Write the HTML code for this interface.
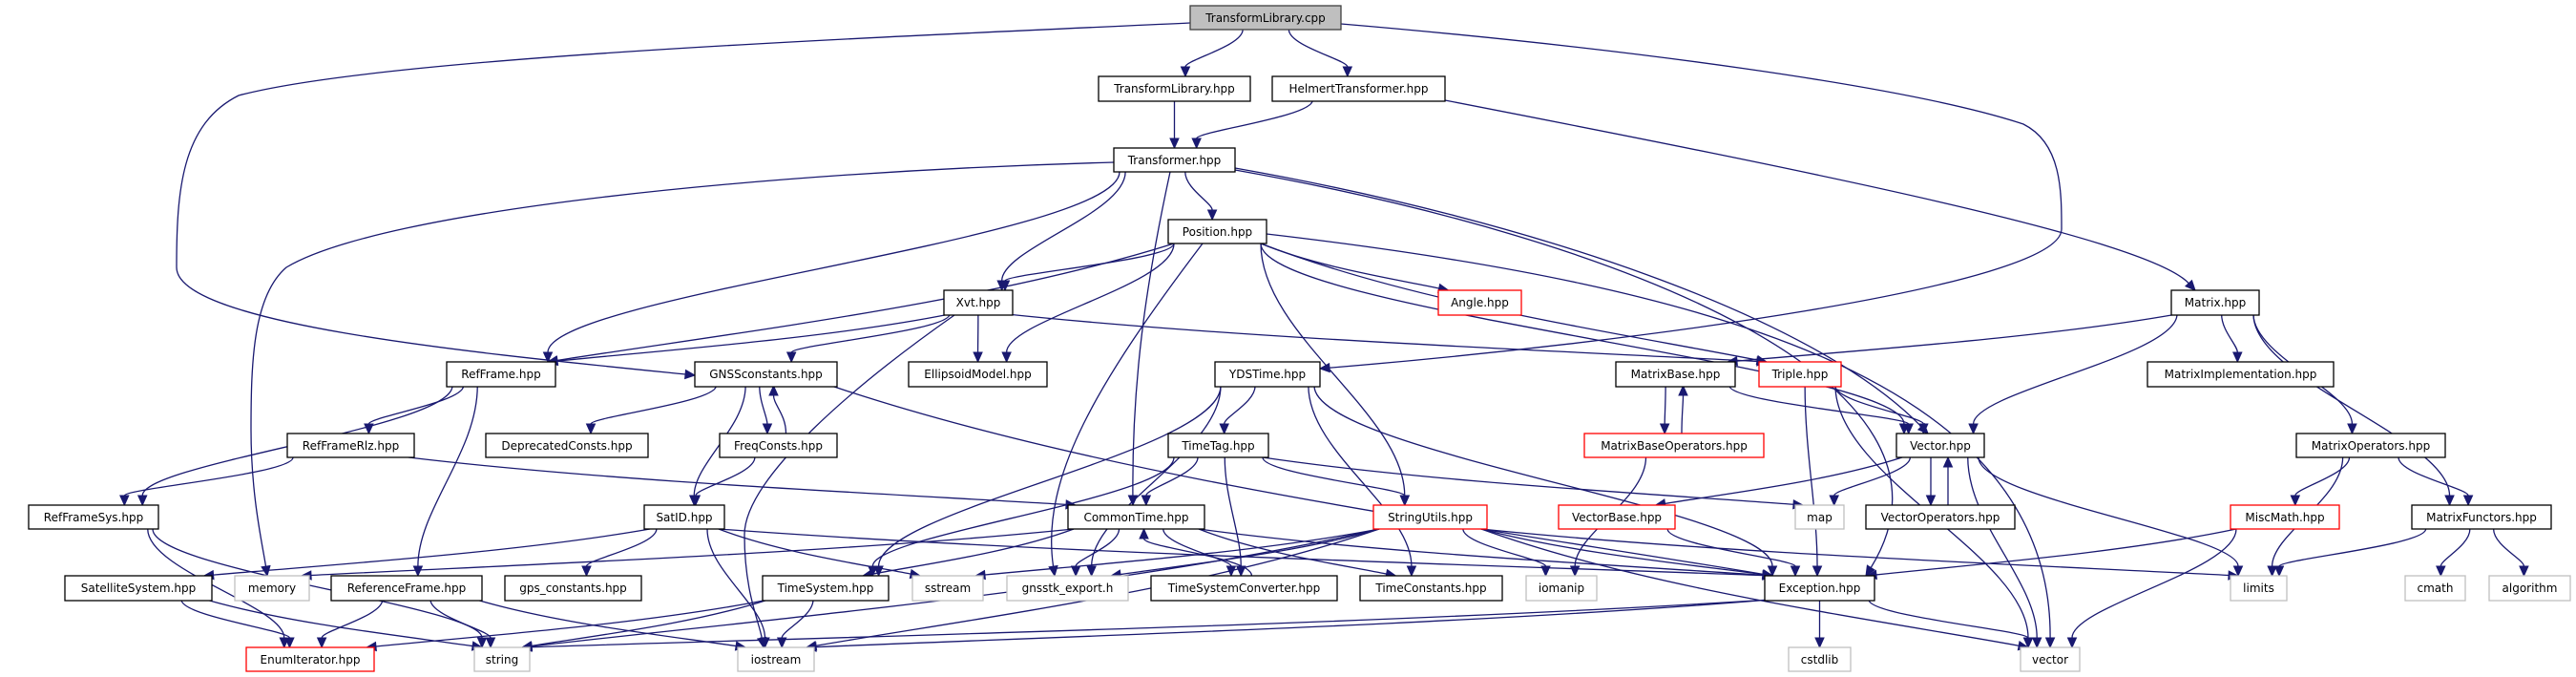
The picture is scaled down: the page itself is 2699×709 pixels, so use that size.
<!DOCTYPE html>
<html><head><meta charset="utf-8">
<style>
html,body{margin:0;padding:0;background:#fff;}
svg{display:block;}
text{font-family:"DejaVu Sans","Liberation Sans",sans-serif;font-size:12px;fill:#000;}
</style></head>
<body>
<svg id="g" width="2699" height="709" viewBox="0 0 2699 709" xmlns="http://www.w3.org/2000/svg">
<rect width="2699" height="709" fill="#fff"/>
<g id="edges" fill="none" stroke="#191970" stroke-width="1.3"></g>
<g id="heads" fill="#191970" stroke="#191970"></g>
<g id="nodes" stroke-width="1.3">
<rect x="1247" y="6" width="158" height="25" fill="#bfbfbf" stroke="#404040"/><text x="1326" y="23" text-anchor="middle">TransformLibrary.cpp</text>
<rect x="1151" y="80" width="159" height="26" fill="#fff" stroke="#000"/><text x="1230.5" y="97" text-anchor="middle">TransformLibrary.hpp</text>
<rect x="1333" y="80" width="181" height="26" fill="#fff" stroke="#000"/><text x="1423.5" y="97" text-anchor="middle">HelmertTransformer.hpp</text>
<rect x="1167" y="155" width="127" height="25" fill="#fff" stroke="#000"/><text x="1230.5" y="172" text-anchor="middle">Transformer.hpp</text>
<rect x="1224" y="230" width="103" height="25" fill="#fff" stroke="#000"/><text x="1275.5" y="247" text-anchor="middle">Position.hpp</text>
<rect x="989" y="304" width="72" height="26" fill="#fff" stroke="#000"/><text x="1025" y="321" text-anchor="middle">Xvt.hpp</text>
<rect x="1507" y="304" width="87" height="26" fill="#fff" stroke="#ff0000"/><text x="1550.5" y="321" text-anchor="middle">Angle.hpp</text>
<rect x="2275" y="304" width="92" height="26" fill="#fff" stroke="#000"/><text x="2321" y="321" text-anchor="middle">Matrix.hpp</text>
<rect x="468" y="379" width="114" height="26" fill="#fff" stroke="#000"/><text x="525" y="396" text-anchor="middle">RefFrame.hpp</text>
<rect x="728" y="379" width="149" height="26" fill="#fff" stroke="#000"/><text x="802.5" y="396" text-anchor="middle">GNSSconstants.hpp</text>
<rect x="952" y="379" width="145" height="26" fill="#fff" stroke="#000"/><text x="1024.5" y="396" text-anchor="middle">EllipsoidModel.hpp</text>
<rect x="1273" y="379" width="110" height="26" fill="#fff" stroke="#000"/><text x="1328" y="396" text-anchor="middle">YDSTime.hpp</text>
<rect x="1693" y="379" width="125" height="26" fill="#fff" stroke="#000"/><text x="1755.5" y="396" text-anchor="middle">MatrixBase.hpp</text>
<rect x="1843" y="379" width="86" height="26" fill="#fff" stroke="#ff0000"/><text x="1886" y="396" text-anchor="middle">Triple.hpp</text>
<rect x="2250" y="379" width="195" height="26" fill="#fff" stroke="#000"/><text x="2347.5" y="396" text-anchor="middle">MatrixImplementation.hpp</text>
<rect x="301" y="454" width="133" height="25" fill="#fff" stroke="#000"/><text x="367.5" y="471" text-anchor="middle">RefFrameRlz.hpp</text>
<rect x="509" y="454" width="170" height="25" fill="#fff" stroke="#000"/><text x="594" y="471" text-anchor="middle">DeprecatedConsts.hpp</text>
<rect x="754" y="454" width="123" height="25" fill="#fff" stroke="#000"/><text x="815.5" y="471" text-anchor="middle">FreqConsts.hpp</text>
<rect x="1224" y="454" width="105" height="25" fill="#fff" stroke="#000"/><text x="1276.5" y="471" text-anchor="middle">TimeTag.hpp</text>
<rect x="1660" y="454" width="188" height="25" fill="#fff" stroke="#ff0000"/><text x="1754" y="471" text-anchor="middle">MatrixBaseOperators.hpp</text>
<rect x="1987" y="454" width="92" height="25" fill="#fff" stroke="#000"/><text x="2033" y="471" text-anchor="middle">Vector.hpp</text>
<rect x="2406" y="454" width="156" height="25" fill="#fff" stroke="#000"/><text x="2484" y="471" text-anchor="middle">MatrixOperators.hpp</text>
<rect x="30" y="529" width="136" height="25" fill="#fff" stroke="#000"/><text x="98" y="546" text-anchor="middle">RefFrameSys.hpp</text>
<rect x="675" y="529" width="84" height="25" fill="#fff" stroke="#000"/><text x="717" y="546" text-anchor="middle">SatID.hpp</text>
<rect x="1119" y="529" width="143" height="25" fill="#fff" stroke="#000"/><text x="1190.5" y="546" text-anchor="middle">CommonTime.hpp</text>
<rect x="1439" y="529" width="119" height="25" fill="#fff" stroke="#ff0000"/><text x="1498.5" y="546" text-anchor="middle">StringUtils.hpp</text>
<rect x="1633" y="529" width="122" height="25" fill="#fff" stroke="#ff0000"/><text x="1694" y="546" text-anchor="middle">VectorBase.hpp</text>
<rect x="1881" y="529" width="51" height="25" fill="#fff" stroke="#bfbfbf"/><text x="1906.5" y="546" text-anchor="middle">map</text>
<rect x="1955" y="529" width="156" height="25" fill="#fff" stroke="#000"/><text x="2033" y="546" text-anchor="middle">VectorOperators.hpp</text>
<rect x="2337" y="529" width="114" height="25" fill="#fff" stroke="#ff0000"/><text x="2394" y="546" text-anchor="middle">MiscMath.hpp</text>
<rect x="2527" y="529" width="146" height="25" fill="#fff" stroke="#000"/><text x="2600" y="546" text-anchor="middle">MatrixFunctors.hpp</text>
<rect x="68" y="603" width="154" height="26" fill="#fff" stroke="#000"/><text x="145" y="620" text-anchor="middle">SatelliteSystem.hpp</text>
<rect x="246" y="603" width="78" height="26" fill="#fff" stroke="#bfbfbf"/><text x="285" y="620" text-anchor="middle">memory</text>
<rect x="347" y="603" width="158" height="26" fill="#fff" stroke="#000"/><text x="426" y="620" text-anchor="middle">ReferenceFrame.hpp</text>
<rect x="529" y="603" width="143" height="26" fill="#fff" stroke="#000"/><text x="600.5" y="620" text-anchor="middle">gps_constants.hpp</text>
<rect x="799" y="603" width="132" height="26" fill="#fff" stroke="#000"/><text x="865" y="620" text-anchor="middle">TimeSystem.hpp</text>
<rect x="956" y="603" width="74" height="26" fill="#fff" stroke="#bfbfbf"/><text x="993" y="620" text-anchor="middle">sstream</text>
<rect x="1055" y="603" width="127" height="26" fill="#fff" stroke="#bfbfbf"/><text x="1118.5" y="620" text-anchor="middle">gnsstk_export.h</text>
<rect x="1206" y="603" width="195" height="26" fill="#fff" stroke="#000"/><text x="1303.5" y="620" text-anchor="middle">TimeSystemConverter.hpp</text>
<rect x="1425" y="603" width="149" height="26" fill="#fff" stroke="#000"/><text x="1499.5" y="620" text-anchor="middle">TimeConstants.hpp</text>
<rect x="1599" y="603" width="74" height="26" fill="#fff" stroke="#bfbfbf"/><text x="1636" y="620" text-anchor="middle">iomanip</text>
<rect x="1849" y="603" width="115" height="26" fill="#fff" stroke="#000"/><text x="1906.5" y="620" text-anchor="middle">Exception.hpp</text>
<rect x="2337" y="603" width="59" height="26" fill="#fff" stroke="#bfbfbf"/><text x="2366.5" y="620" text-anchor="middle">limits</text>
<rect x="2520" y="603" width="63" height="26" fill="#fff" stroke="#bfbfbf"/><text x="2551.5" y="620" text-anchor="middle">cmath</text>
<rect x="2608" y="603" width="85" height="26" fill="#fff" stroke="#bfbfbf"/><text x="2650.5" y="620" text-anchor="middle">algorithm</text>
<rect x="258" y="678" width="134" height="25" fill="#fff" stroke="#ff0000"/><text x="325" y="695" text-anchor="middle">EnumIterator.hpp</text>
<rect x="497" y="678" width="58" height="25" fill="#fff" stroke="#bfbfbf"/><text x="526" y="695" text-anchor="middle">string</text>
<rect x="773" y="678" width="80" height="25" fill="#fff" stroke="#bfbfbf"/><text x="813" y="695" text-anchor="middle">iostream</text>
<rect x="1874" y="678" width="65" height="25" fill="#fff" stroke="#bfbfbf"/><text x="1906.5" y="695" text-anchor="middle">cstdlib</text>
<rect x="2117" y="678" width="62" height="25" fill="#fff" stroke="#bfbfbf"/><text x="2148" y="695" text-anchor="middle">vector</text>
</g>
</svg>
<script>
(function(){
var R=[6,80,155,230,304,379,454,529,603,678];
var N={
cpp:[1247,1405,0],tlh:[1151,1310,1],helm:[1333,1514,1],tr:[1167,1294,2],pos:[1224,1327,3],
xvt:[989,1061,4],ang:[1507,1594,4],mat:[2275,2367,4],
rf:[468,582,5],gnss:[728,877,5],ell:[952,1097,5],yds:[1273,1383,5],mb:[1693,1818,5],tri:[1843,1929,5],mi:[2250,2445,5],
rlz:[301,434,6],dep:[509,679,6],fc:[754,877,6],tt:[1224,1329,6],mbo:[1660,1848,6],vec:[1987,2079,6],mo:[2406,2562,6],
rfs:[30,166,7],sat:[675,759,7],ct:[1119,1262,7],su:[1439,1558,7],vb:[1633,1755,7],map:[1881,1932,7],vo:[1955,2111,7],mm:[2337,2451,7],mf:[2527,2673,7],
ss:[68,222,8],mem:[246,324,8],ref:[347,505,8],gps:[529,672,8],ts:[799,931,8],sst:[956,1030,8],gex:[1055,1182,8],tsc:[1206,1401,8],tc:[1425,1574,8],iom:[1599,1673,8],exc:[1849,1964,8],lim:[2337,2396,8],cm:[2520,2583,8],alg:[2608,2693,8],
ei:[258,392,9],str:[497,555,9],ios:[773,853,9],cst:[1874,1939,9],vct:[2117,2179,9]
};
var O={
"cpp gnss":[[1247,24],[900,40],[400,60],[250,100],[190,130],[185,200],[185,280],[185,340],[500,370],[728,393]],
"cpp yds":[[1405,25],[1700,50],[2000,90],[2120,130],[2160,150],[2160,200],[2160,240],[2160,300],[1700,360],[1383,386]],
"helm mat":[[1514,105],[1900,180],[2250,250],[2300,304]],
"tr mem":[[1167,170],[800,180],[400,220],[300,280],[265,310],[263,380],[263,450],[263,520],[275,570],[280,603]],
"tr vec":[[1294,176],[1600,230],[1900,330],[2020,454]],
"tr exc":[[1294,178],[1700,250],[2080,400],[1955,603]],
"pos vct":[[1327,245],[1800,300],[2150,400],[2148,678]],
"xvt ios":[[1000,330],[900,400],[780,500],[780,560],[780,620],[795,650],[800,678]],
"tr ct":[[1226,180],[1200,300],[1186,400],[1187,529]],
"pos gex":[[1260,255],[1150,400],[1090,500],[1105,603]]
};
var E=[
"cpp tlh","cpp helm","cpp gnss","cpp yds","tlh tr","helm tr","helm mat",
"tr mem","tr rf","tr xvt","tr ct","tr pos","tr vec","tr exc",
"pos rf","pos xvt","pos ell","pos gex","pos su","pos ang","pos tri","pos vec","pos vct",
"xvt rf","xvt gnss","xvt ell","xvt ios","xvt tri",
"rf rlz","rf rfs","rf ref","gnss dep","gnss fc","gnss sat","gnss exc","fc gnss","fc sat",
"rlz rfs","rlz ct","yds tt","yds ts","yds gex","yds tc","yds exc",
"tt ct","tt ts","tt tsc","tt su","tt map","ct ts","ct gex","ct tsc","ct tc","ct exc","ct mem","tsc ct",
"sat ss","sat gps","sat ios","sat sst","sat exc",
"su sst","su iom","su exc","su str","su ios","su lim","su vct","su gex",
"vb exc","mb mbo","mbo mb","mb vec","mbo iom","tri vec","tri exc","tri vct",
"mat mb","mat vec","mat mi","mat mo","mat mf","vec vo","vo vec","vec vb","vec map","vec lim","vec vct",
"mo mm","mo mf","mo lim","mm exc","mm vct","mf lim","mf cm","mf alg",
"exc cst","exc vct","exc str","exc ios","ts str","ts ios","ts ei","ss ei","ss str","ref ei","ref str","ref ios","rfs ei","rfs str"
];
var eg=document.getElementById('edges'),hg=document.getElementById('heads'),NS='http://www.w3.org/2000/svg';
function cl(v,a,b){return Math.max(a,Math.min(b,v));}
function draw(pts){
 var n=pts.length,e=pts[n-1],c=pts[n-2];
 var dx=e[0]-c[0],dy=e[1]-c[1],L=Math.sqrt(dx*dx+dy*dy)||1;dx/=L;dy/=L;
 var bx=e[0]-dx*10,by=e[1]-dy*10;
 var d='M'+pts[0][0]+','+pts[0][1];
 for(var i=1;i<n;i+=3){
  var p3=(i+2===n-1)?[bx,by]:pts[i+2];
  d+=' C'+pts[i][0]+','+pts[i][1]+' '+pts[i+1][0]+','+pts[i+1][1]+' '+p3[0]+','+p3[1];
 }
 var path=document.createElementNS(NS,'path');path.setAttribute('d',d);eg.appendChild(path);
 var h=document.createElementNS(NS,'polygon');
 h.setAttribute('points',e[0]+','+e[1]+' '+(bx-dy*4.5)+','+(by+dx*4.5)+' '+(bx+dy*4.5)+','+(by-dx*4.5));
 hg.appendChild(h);
}
E.forEach(function(s){
 if(O[s]){draw(O[s]);return;}
 var p=s.split(' '),A=N[p[0]],B=N[p[1]];
 var acx=(A[0]+A[1])/2,bcx=(B[0]+B[1])/2,ay=R[A[2]],by=R[B[2]];
 var sx,sy,ex,ey,c1x,c1y,c2x,c2y,d;
 if(B[2]>A[2]){
  sx=cl(acx+(bcx-acx)*0.25,A[0]+6,A[1]-6);sy=ay+25;
  ex=cl(bcx+(acx-bcx)*0.12,B[0]+8,B[1]-8);ey=by;
  d=ey-sy;c1x=sx;c1y=sy+d*0.35;c2x=ex;c2y=ey-d*0.35;
  if(Math.abs(ex-sx)>4*d){c1x=sx+(ex-sx)*0.3;c1y=sy+d*0.5;c2x=ex-(ex-sx)*0.3;c2y=ey-d*0.25;}
 } else if(B[2]<A[2]){
  sx=cl(acx+8,A[0]+6,A[1]-6);sy=ay;ex=cl(bcx+8,B[0]+6,B[1]-6);ey=by+25;
  d=sy-ey;c1x=sx;c1y=sy-d*0.4;c2x=ex;c2y=ey+d*0.4;
 } else {
  sx=acx<bcx?A[1]:A[0];sy=ay+12;ex=acx<bcx?B[0]:B[1];ey=by+12;
  c1x=sx+(ex-sx)*0.3;c1y=sy-20;c2x=ex-(ex-sx)*0.3;c2y=ey-20;
 }
 if((p[0]=="mb"&&p[1]=="mbo")||(p[0]=="vec"&&p[1]=="vo")||(p[0]=="gnss"&&p[1]=="fc")){sx-=10;ex-=10;c1x-=10;c2x-=10;}
 draw([[sx,sy],[c1x,c1y],[c2x,c2y],[ex,ey]]);
});
})();
</script>
</body></html>
